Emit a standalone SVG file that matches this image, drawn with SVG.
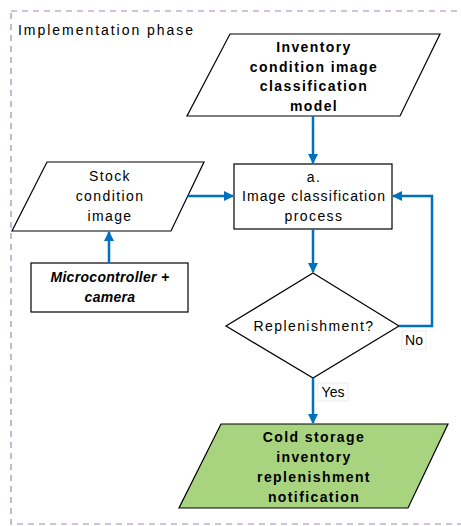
<svg xmlns="http://www.w3.org/2000/svg" width="461" height="526" viewBox="0 0 461 526">
<defs>
<marker id="arr" viewBox="0 0 10 10" refX="9" refY="5" markerWidth="4" markerHeight="4" orient="auto" markerUnits="strokeWidth">
<path d="M0,0 L10,5 L0,10 z" fill="#0070c0"/>
</marker>
<style>
.t{font-family:"Liberation Sans",Arial,sans-serif;font-size:14px;fill:#000;text-anchor:middle;letter-spacing:1.4px}
.b{font-weight:bold}
.shape{fill:#fff;stroke:#000;stroke-width:1.2}
.conn{fill:none;stroke:#0070c0;stroke-width:2.5;marker-end:url(#arr)}
.lbl{fill:#fff;stroke:#e6e6e6;stroke-width:0.8}
</style>
</defs>
<rect width="461" height="526" fill="#fff"/>
<g id="phase">
<rect x="11" y="11" width="470" height="513" fill="none" stroke="#9e86bd" stroke-width="1.2" stroke-dasharray="6,5"/>
<text x="18" y="35" class="t" style="text-anchor:start;letter-spacing:0" textLength="175" lengthAdjust="spacing">Implementation phase</text>
</g>
<g id="model">
<polygon class="shape" points="230,34 440,34 400,116 187,116"/>
<text class="t b" x="314" y="52">Inventory</text>
<text class="t b" x="314" y="72">condition image</text>
<text class="t b" x="314" y="91">classification</text>
<text class="t b" x="314" y="111">model</text>
</g>
<g id="process">
<rect class="shape" x="234" y="164" width="158" height="65"/>
<text class="t" x="314" y="182">a.</text>
<text class="t" x="314" y="201" style="letter-spacing:1.1px">Image classification</text>
<text class="t" x="314" y="221">process</text>
</g>
<g id="stock">
<polygon class="shape" points="47,162 204,162 171,231 12,231"/>
<text class="t" x="110" y="181">Stock</text>
<text class="t" x="110" y="201">condition</text>
<text class="t" x="110" y="221">image</text>
</g>
<g id="micro">
<rect class="shape" x="31" y="263" width="157" height="49"/>
<text class="t b" x="110" y="282" font-style="italic" style="letter-spacing:0.3px">Microcontroller +</text>
<text class="t b" x="110" y="302" font-style="italic" style="letter-spacing:0.3px">camera</text>
</g>
<g id="decision">
<polygon class="shape" points="313,273 399,326 313,378 226,326"/>
<text class="t" x="314" y="331">Replenishment?</text>
</g>
<g id="notify">
<polygon points="221,424 448,424 408,508 179,508" fill="#a9d47f" stroke="#000" stroke-width="1.2"/>
<text class="t b" x="314" y="442">Cold storage</text>
<text class="t b" x="314" y="462">inventory</text>
<text class="t b" x="314" y="482">replenishment</text>
<text class="t b" x="314" y="502">notification</text>
</g>
<g id="connectors">
<line class="conn" x1="313" y1="116" x2="313" y2="163"/>
<line class="conn" x1="188" y1="196" x2="233" y2="196"/>
<line class="conn" x1="109" y1="263" x2="109" y2="232"/>
<line class="conn" x1="313" y1="229" x2="313" y2="272"/>
<polyline class="conn" points="399,326 432,326 432,196 393,196"/>
<line class="conn" x1="313" y1="378" x2="313" y2="423"/>
<rect class="lbl" x="402" y="331" width="24" height="18"/>
<text class="t" x="414" y="345" style="letter-spacing:0">No</text>
<rect class="lbl" x="318" y="383" width="30" height="18"/>
<text class="t" x="333" y="397" style="letter-spacing:0">Yes</text>
</g>
</svg>
